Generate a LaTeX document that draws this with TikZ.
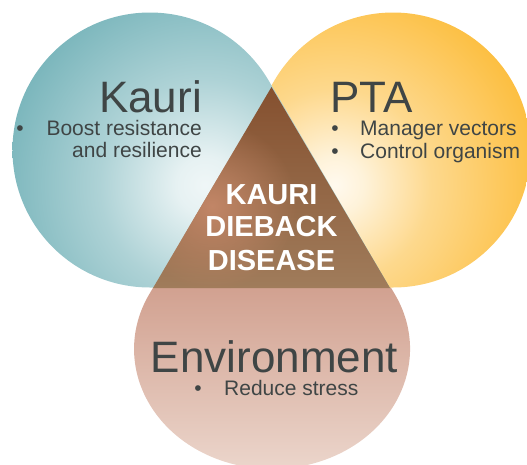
\documentclass[tikz,border=0pt]{standalone}
\usepackage{fontspec}
\setmainfont{Liberation Sans}
\usepackage{tikz}
\usetikzlibrary{fadings}

\definecolor{kauriteal}{HTML}{63A9B0}
\definecolor{ptaamber}{HTML}{FCB930}
\definecolor{envtop}{HTML}{D1A08F}
\definecolor{envbottom}{HTML}{ECD7CD}
\definecolor{diebackdark}{HTML}{85502F}
\definecolor{diebackbase}{HTML}{A07C5B}
\definecolor{diebacklight}{HTML}{C28667}
\definecolor{labelgray}{HTML}{3F4545}

\pgfdeclareradialshading{kauriglow}{\pgfpointorigin}{color(0bp)=(white!90!kauriteal); color(3bp)=(white!84!kauriteal); color(11bp)=(white!48!kauriteal); color(26bp)=(kauriteal); color(50bp)=(kauriteal)}
\pgfdeclareradialshading{ptaglow}{\pgfpointorigin}{color(0bp)=(white!92!ptaamber); color(3bp)=(white!82!ptaamber); color(10bp)=(white!45!ptaamber); color(24bp)=(ptaamber); color(50bp)=(ptaamber)}
\tikzfading[name=diebackspot, inner color=transparent!0, outer color=transparent!100]

\begin{document}
\begin{tikzpicture}[x=1pt, y=1pt,
headline/.style={text=labelgray, font=\fontsize{44}{48}\selectfont, inner sep=0pt, text depth=0pt},
itemline/.style={text=labelgray, font=\fontsize{21}{22}\selectfont, inner sep=0pt, text height=14pt, text depth=4pt},
bulletmark/.style={text=labelgray, font=\fontsize{21}{22}\selectfont, inner sep=0pt, text height=11pt, text depth=0pt},
dieback/.style={text=white, font=\fontsize{29}{33}\selectfont\bfseries, inner sep=0pt, text depth=0pt},
]
\useasboundingbox (0,0) rectangle (527,464);
\clip (0,0) rectangle (527,464);

%Tips of the drops
\coordinate (apex)     at (271.5,377);
\coordinate (tipleft)  at (153,176);
\coordinate (tipright) at (390,176);

%Environment drop
\begin{scope}
\clip (apex) -- (394.7,170) arc[start angle=27.26, end angle=-207.26, x radius=138, y radius=120] -- cycle;
\shade[top color=envtop, bottom color=envbottom] (120,-10) rectangle (430,180);
\end{scope}

%PTA drop
\begin{scope}
\clip (tipleft) -- (393.3,176.5) arc[start angle=-89.88, end angle=149.68, radius=137.5] -- cycle;
\shade[shading=ptaglow] (335,279) circle (240);
\end{scope}

%Kauri drop
\begin{scope}
\clip (tipright) -- (149.7,176.5) arc[start angle=-90.12, end angle=-329.68, radius=137.5] -- cycle;
\shade[shading=kauriglow] (205,279) circle (240);
\end{scope}

%Centre
\shade[top color=diebackdark, bottom color=diebackbase] (apex) -- (tipleft) -- (tipright) -- cycle;
\begin{scope}
\clip (apex) -- (tipleft) -- (tipright) -- cycle;
\fill[diebacklight, path fading=diebackspot] (212,258) circle (85);
\end{scope}

%Labels
\node[headline, anchor=base east] (kauri)      at (202,351) {Kauri};
\node[itemline, anchor=base east] (kauriitem1) at (202,328) {Boost resistance};
\node[itemline, anchor=base east] (kauriitem2) at (202,306) {and resilience};
\node[bulletmark, anchor=base]    (kauridot)   at (20,328)  {•};

\node[headline, anchor=base west] (pta)      at (330,351) {PTA};
\node[itemline, anchor=base west] (ptaitem1) at (360,328) {Manager vectors};
\node[itemline, anchor=base west] (ptaitem2) at (360,305) {Control organism};
\node[bulletmark, anchor=base]    (ptadot1)  at (335,328) {•};
\node[bulletmark, anchor=base]    (ptadot2)  at (335,305) {•};

\node[dieback, anchor=base] (dieback1) at (271.5,259) {KAURI};
\node[dieback, anchor=base] (dieback2) at (271.5,227) {DIEBACK};
\node[dieback, anchor=base] (dieback3) at (271.5,194) {DISEASE};

\node[headline, anchor=base]      (environment) at (274.5,92) {Environment};
\node[itemline, anchor=base west] (envitem)     at (224,69)   {Reduce stress};
\node[bulletmark, anchor=base]    (envdot)      at (198,69)   {•};
\end{tikzpicture}
\end{document}
